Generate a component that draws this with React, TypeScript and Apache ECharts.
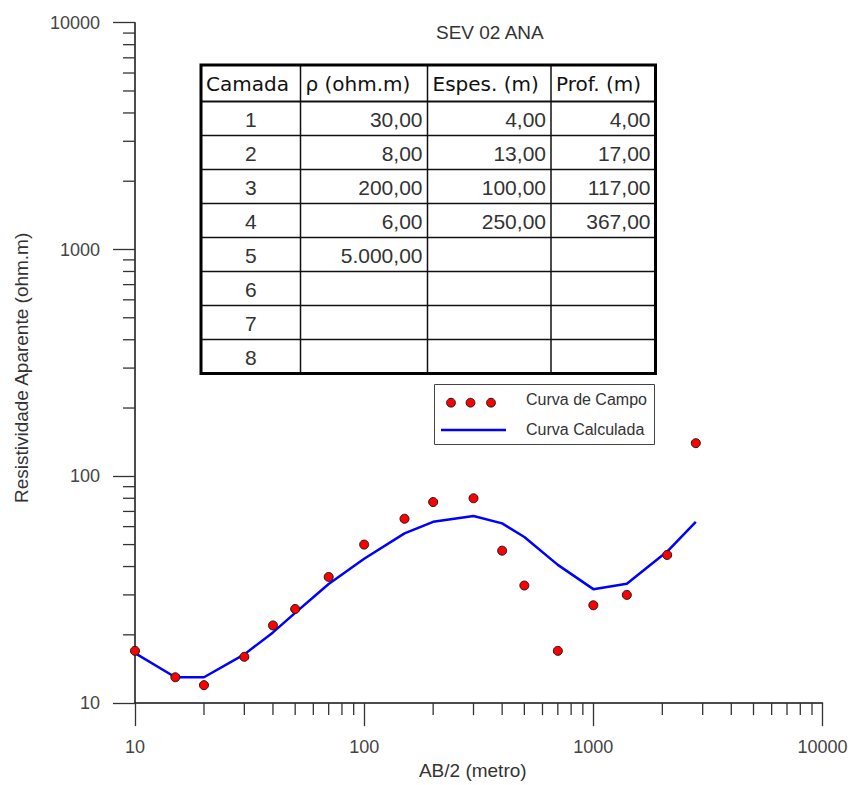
import { useEffect, useRef } from 'react';
import * as echarts from 'echarts';

// Field data (AB/2 in metres, apparent resistivity in ohm.m)
const abX = [10, 15, 20, 30, 40, 50, 70, 100, 150, 200, 300, 400, 500, 700, 1000, 1400, 2100, 2800];
const rhoCampo = [17, 13, 12, 16, 22, 26, 36, 50, 65, 77, 80, 47, 33, 17, 27, 30, 45, 140];
const rhoCalc = [16.6, 13, 13, 16.4, 20.5, 25, 33.5, 43.3, 56, 63, 66.8, 62, 54, 40.7, 31.8, 33.6, 46.6, 63];

// Table of layers
const tableHeader = ['Camada', 'ρ (ohm.m)', 'Espes. (m)', 'Prof. (m)'];
const camadas = ['1', '2', '3', '4', '5', '6', '7', '8'];
const rhoTable = ['30,00', '8,00', '200,00', '6,00', '5.000,00', '', '', ''];
const espesTable = ['4,00', '13,00', '100,00', '250,00', '', '', '', ''];
const profTable = ['4,00', '17,00', '117,00', '367,00', '', '', '', ''];

const titleText = 'SEV 02 ANA';
const xName = 'AB/2 (metro)';
const yName = 'Resistividade Aparente (ohm.m)';
const legendNames = ['Curva de Campo', 'Curva Calculada'];

const axisMin = 10;
const axisMax = 10000;
const decades = [10, 100, 1000];
const minorMultipliers = [2, 3, 4, 5, 6, 7, 8, 9];

export default function App() {
  const ref = useRef<HTMLDivElement>(null);

  useEffect(() => {
    const chart = echarts.init(ref.current!, null, { renderer: 'svg' });

    const minorTicks: number[] = [];
    decades.forEach((d) => minorMultipliers.forEach((m) => minorTicks.push(m * d)));

    const labelFont = 'Liberation Sans, Arial, sans-serif';
    const tickColor = '#333';

    // ---- table graphic ----
    const colX = [201, 300.5, 427.5, 551, 655.5];
    const headTop = 65;
    const headBottom = 101.5;
    const rowH = 34;
    const tableBottom = headBottom + rowH * camadas.length;
    const tableEls: any[] = [];
    tableEls.push({
      type: 'rect',
      shape: { x: colX[0], y: headTop, width: colX[4] - colX[0], height: tableBottom - headTop },
      style: { fill: '#fff', stroke: 'none' },
      silent: true,
    });
    for (let i = 0; i < camadas.length; i++) {
      const y = headBottom + rowH * i;
      tableEls.push({
        type: 'line',
        shape: { x1: colX[0], y1: y, x2: colX[4], y2: y },
        style: { stroke: '#111', lineWidth: i === 0 ? 2 : 1.5 },
        silent: true,
      });
    }
    for (let j = 1; j < 4; j++) {
      tableEls.push({
        type: 'line',
        shape: { x1: colX[j], y1: headTop, x2: colX[j], y2: tableBottom },
        style: { stroke: '#111', lineWidth: 1.5 },
        silent: true,
      });
    }
    tableEls.push({
      type: 'rect',
      shape: { x: colX[0], y: headTop, width: colX[4] - colX[0], height: tableBottom - headTop },
      style: { fill: 'none', stroke: '#000', lineWidth: 3 },
      silent: true,
    });
    tableHeader.forEach((h, j) => {
      tableEls.push({
        type: 'text',
        x: colX[j] + 5,
        y: (headTop + headBottom) / 2 + 1,
        style: {
          text: h,
          font: '20px "DejaVu Sans", Verdana, sans-serif',
          fill: '#111',
          align: 'left',
          verticalAlign: 'middle',
        },
        silent: true,
      });
    });
    camadas.forEach((c, i) => {
      const cy = headBottom + rowH * i + rowH / 2 + 1;
      const cells = [c, rhoTable[i], espesTable[i], profTable[i]];
      cells.forEach((t, j) => {
        if (!t) return;
        tableEls.push({
          type: 'text',
          x: j === 0 ? (colX[0] + colX[1]) / 2 : colX[j + 1] - 5,
          y: cy,
          style: {
            text: t,
            font: '21px "Liberation Sans", Arial, sans-serif',
            fill: '#333',
            align: j === 0 ? 'center' : 'right',
            verticalAlign: 'middle',
          },
          silent: true,
        });
      });
    });

    // ---- legend graphic ----
    const legendEls: any[] = [
      {
        type: 'rect',
        shape: { x: 434.5, y: 384.5, width: 220, height: 60 },
        style: { fill: '#fff', stroke: '#444', lineWidth: 1 },
        silent: true,
      },
      ...[451, 470.5, 491].map((cx) => ({
        type: 'circle',
        shape: { cx, cy: 402.7, r: 4.4 },
        style: { fill: '#ff0000', stroke: '#1a1a1a', lineWidth: 1 },
        silent: true,
      })),
      {
        type: 'line',
        shape: { x1: 441, y1: 430, x2: 506, y2: 430 },
        style: { stroke: '#0000ff', lineWidth: 2.5 },
        silent: true,
      },
      {
        type: 'text',
        x: 526,
        y: 399.5,
        style: { text: legendNames[0], font: '16px ' + labelFont, fill: '#333', align: 'left', verticalAlign: 'middle' },
        silent: true,
      },
      {
        type: 'text',
        x: 526,
        y: 429.5,
        style: { text: legendNames[1], font: '16px ' + labelFont, fill: '#333', align: 'left', verticalAlign: 'middle' },
        silent: true,
      },
    ];

    const option: any = {
      animation: false,
      backgroundColor: '#fff',
      title: {
        text: titleText,
        left: 436,
        top: 23,
        padding: 0,
        textStyle: { fontFamily: labelFont, fontSize: 19, fontWeight: 'normal', color: '#333' },
      },
      grid: { left: 135, right: 28.5, top: 22.7, bottom: 79.3, containLabel: false },
      xAxis: {
        type: 'log',
        logBase: 10,
        min: axisMin,
        max: axisMax,
        name: xName,
        nameLocation: 'middle',
        nameGap: 53,
        nameTextStyle: { fontFamily: labelFont, fontSize: 19, color: '#333', padding: [0, 12, 0, 0] },
        axisLine: { show: true, lineStyle: { color: '#111', width: 1.5 } },
        axisTick: { show: true, inside: false, length: 23, lineStyle: { color: tickColor, width: 1.3 } },
        axisLabel: {
          margin: 35,
          fontFamily: labelFont,
          fontSize: 18,
          color: '#444',
          formatter: (v: number) => String(Math.round(v)),
        },
        splitLine: { show: false },
        minorTick: { show: false },
      },
      yAxis: {
        type: 'log',
        logBase: 10,
        min: axisMin,
        max: axisMax,
        name: yName,
        nameLocation: 'middle',
        nameGap: 104,
        nameRotate: 90,
        nameTextStyle: { fontFamily: labelFont, fontSize: 19, color: '#333', padding: [0, 10, 0, 0] },
        axisLine: { show: true, lineStyle: { color: '#111', width: 1.5 } },
        axisTick: { show: true, inside: false, length: 22, lineStyle: { color: tickColor, width: 1.3 } },
        axisLabel: {
          margin: 35,
          fontFamily: labelFont,
          fontSize: 18,
          color: '#444',
          formatter: (v: number) => String(Math.round(v)),
        },
        splitLine: { show: false },
        minorTick: { show: false },
      },
      series: [
        {
          type: 'custom',
          name: 'xMinorTicks',
          coordinateSystem: 'cartesian2d',
          clip: false,
          silent: true,
          data: minorTicks.map((v) => [v, axisMin]),
          renderItem: (_p: any, api: any) => {
            const pt = api.coord([api.value(0), api.value(1)]);
            return {
              type: 'line',
              shape: { x1: pt[0], y1: pt[1], x2: pt[0], y2: pt[1] + 12 },
              style: { stroke: tickColor, lineWidth: 1.3 },
            };
          },
        },
        {
          type: 'custom',
          name: 'yMinorTicks',
          coordinateSystem: 'cartesian2d',
          clip: false,
          silent: true,
          data: minorTicks.map((v) => [axisMin, v]),
          renderItem: (_p: any, api: any) => {
            const pt = api.coord([api.value(0), api.value(1)]);
            return {
              type: 'line',
              shape: { x1: pt[0] - 12, y1: pt[1], x2: pt[0], y2: pt[1] },
              style: { stroke: tickColor, lineWidth: 1.3 },
            };
          },
        },
        {
          type: 'line',
          name: legendNames[1],
          data: abX.map((x, i) => [x, rhoCalc[i]]),
          symbol: 'none',
          lineStyle: { color: '#0000ff', width: 2.5 },
          z: 3,
        },
        {
          type: 'scatter',
          name: legendNames[0],
          data: abX.map((x, i) => [x, rhoCampo[i]]),
          symbol: 'circle',
          symbolSize: 9,
          itemStyle: { color: '#ff0000', borderColor: '#1a1a1a', borderWidth: 1, opacity: 1 },
          z: 4,
        },
      ],
      graphic: [...tableEls, ...legendEls],
    };

    chart.setOption(option);
    return () => chart.dispose();
  }, []);

  return (
    <div
      ref={ref}
      style={{ position: 'absolute', left: 0, top: 0, width: 851, height: 785, background: '#fff' }}
    />
  );
}
